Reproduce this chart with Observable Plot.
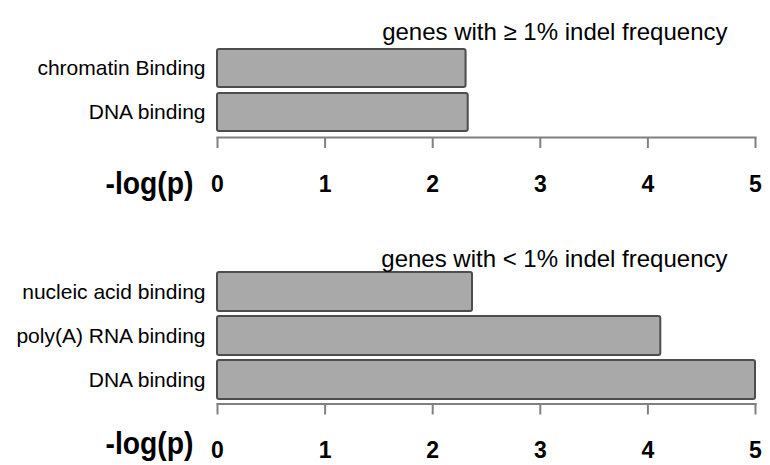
<!DOCTYPE html>
<html>
<head>
<meta charset="utf-8">
<script src="https://cdn.jsdelivr.net/npm/d3@7"></script>
<script src="https://cdn.jsdelivr.net/npm/@observablehq/plot@0.6"></script>
<style>
  html, body { margin: 0; padding: 0; background: white; }
  #chart { width: 770px; height: 465px; position: relative; }
  #chart svg { display: block; }
</style>
</head>
<body>
<div id="chart"></div>
<script>
const topTitle = "genes with \u2265 1% indel frequency";
const topTerms = ["chromatin Binding", "DNA binding"];
const topValues = [2.31, 2.33];

const bottomTitle = "genes with < 1% indel frequency";
const bottomTerms = ["nucleic acid binding", "poly(A) RNA binding", "DNA binding"];
const bottomValues = [2.37, 4.12, 5.0];

const xTicks = [0, 1, 2, 3, 4, 5];
const axisLabel = "-log(p)";

const baseFont = "'Liberation Sans', Arial, Helvetica, sans-serif";
const narrowFont = "'Liberation Sans Narrow', 'Arial Narrow', 'Liberation Sans', Arial, sans-serif";

function panel({terms, values, title, height, marginTop, marginBottom, paddingInner, paddingOuter, titleDy, tickPadding, labelDy}) {
  const data = terms.map((t, i) => ({term: t, value: values[i]}));
  const svg = Plot.plot({
    width: 770,
    height,
    marginLeft: 217,
    marginRight: 15,
    marginTop,
    marginBottom,
    style: {fontFamily: baseFont, background: "white", color: "black", overflow: "visible"},
    x: {domain: [0, 5]},
    y: {domain: terms, paddingInner, paddingOuter, label: null},
    marks: [
      Plot.barX(data, {x: "value", y: "term", fill: "#a9a9a9", stroke: "#4d4d4d", strokeWidth: 2, rx: 2}),
      Plot.axisY({tickSize: 0, tickPadding: 12, fontSize: 21, label: null}),
      Plot.frame({anchor: "bottom", stroke: "#808080", strokeWidth: 2}),
      Plot.axisX({ticks: xTicks, tickFormat: d => String(d), tickSize: 11, tickPadding, stroke: "#808080", strokeWidth: 2,
                  fontSize: 23, fontWeight: "bold", fontFamily: narrowFont, label: null}),
      Plot.text([title], {text: d => d, frameAnchor: "top-right", dx: -28, dy: titleDy, fontSize: 24, textAnchor: "end"}),
      Plot.text([axisLabel], {text: d => d, frameAnchor: "bottom-left", dx: -112, dy: labelDy, lineAnchor: "bottom",
                              textAnchor: "start", fontSize: 31, fontWeight: "bold", fontFamily: narrowFont})
    ]
  });
  d3.select(svg).selectAll("text").filter(function() { return this.textContent === axisLabel; })
    .attr("textLength", 88).attr("lengthAdjust", "spacingAndGlyphs");
  return svg;
}

const chart = document.getElementById("chart");
chart.appendChild(panel({
  terms: topTerms, values: topValues, title: topTitle,
  height: 225, marginTop: 44, marginBottom: 88,
  paddingInner: 0.133, paddingOuter: 0.1,
  titleDy: -22, tickPadding: 27, labelDy: 56
}));
chart.appendChild(panel({
  terms: bottomTerms, values: bottomValues, title: bottomTitle,
  height: 240, marginTop: 42, marginBottom: 61.5,
  paddingInner: 0.12, paddingOuter: 0.08,
  titleDy: -18, tickPadding: 27, labelDy: 50
}));
</script>
</body>
</html>
